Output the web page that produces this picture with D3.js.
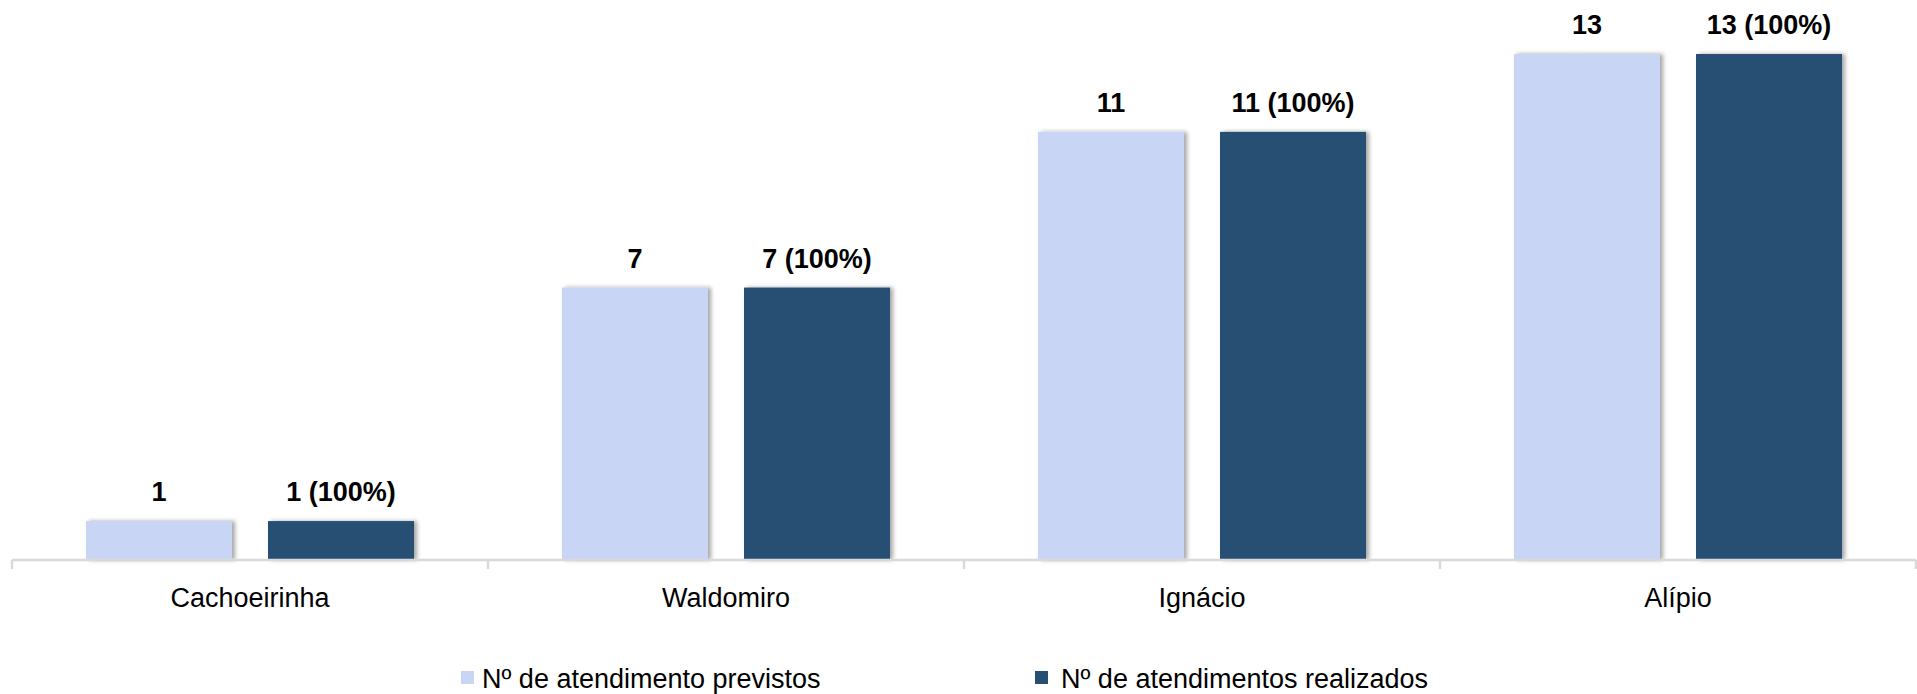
<!DOCTYPE html>
<html>
<head>
<meta charset="utf-8">
<script src="https://cdn.jsdelivr.net/npm/d3@7"></script>
<style>
  html, body { margin: 0; padding: 0; background: #ffffff; }
  svg { display: block; }
  text { font-family: "Liberation Sans", Arial, sans-serif; fill: #000; }
</style>
</head>
<body>
<svg id="chart" width="1917" height="694"></svg>
<script>
const categories = ["Cachoeirinha", "Waldomiro", "Ignácio", "Alípio"];
const seriesNames = ["Nº de atendimento previstos", "Nº de atendimentos realizados"];
const previstos = [1, 7, 11, 13];
const realizados = [1, 7, 11, 13];
const percentLabels = ["100%", "100%", "100%", "100%"];
const colors = ["#C9D5F5", "#264F73"];

const svg = d3.select("#chart");
const W = 1917, H = 694;
const axisLeft = 12, axisRight = 1916, baseY = 560, topY = 15.1;

const defs = svg.append("defs");
const f = defs.append("filter").attr("id", "shadow")
  .attr("x", "-10%").attr("y", "-10%").attr("width", "130%").attr("height", "120%");
f.append("feDropShadow").attr("dx", 3).attr("dy", 0).attr("stdDeviation", 2)
  .attr("flood-color", "#000").attr("flood-opacity", 0.35);

const x0 = d3.scaleBand().domain(categories).range([axisLeft, axisRight]).padding(0);
const bw = x0.bandwidth();
const x1 = d3.scaleBand().domain([0, 1]).range([74, bw - 74]).paddingInner(36 / 182).paddingOuter(0);
const y = d3.scaleLinear().domain([0, 14]).range([baseY, topY]);

const data = categories.map((c, i) => ({
  cat: c,
  vals: [
    { s: 0, v: previstos[i], label: String(previstos[i]) },
    { s: 1, v: realizados[i], label: realizados[i] + " (" + percentLabels[i] + ")" }
  ]
}));

const g = svg.append("g");
const groups = g.selectAll("g.grp").data(data).join("g")
  .attr("class", "grp")
  .attr("transform", d => `translate(${x0(d.cat)},0)`);

groups.selectAll("rect").data(d => d.vals).join("rect")
  .attr("x", d => x1(d.s))
  .attr("width", x1.bandwidth())
  .attr("y", d => y(d.v))
  .attr("height", d => y(0) - y(d.v))
  .attr("fill", d => colors[d.s])
  .attr("filter", "url(#shadow)");

groups.selectAll("text.val").data(d => d.vals).join("text")
  .attr("class", "val")
  .attr("x", d => x1(d.s) + x1.bandwidth() / 2)
  .attr("y", d => y(d.v) - 20)
  .attr("text-anchor", "middle")
  .style("font-size", "27px")
  .style("font-weight", "bold")
  .text(d => d.label);

// x axis
const axis = d3.axisBottom(x0).tickSize(0).tickPadding(28);
const ax = svg.append("g").attr("transform", `translate(0,${baseY})`).call(axis);
ax.select(".domain").attr("stroke", "#D9D9D9").attr("stroke-width", 2.5)
  .attr("d", `M${axisLeft},0H${axisRight}`);
ax.selectAll(".tick text").style("font-size", "27px")
  .style("font-family", "'Liberation Sans', Arial, sans-serif").attr("fill", "#000")
  .attr("dy", "0.71em");
// boundary ticks
const bounds = categories.map(c => x0(c)).concat([axisRight]);
ax.selectAll("line.bound").data(bounds).join("line")
  .attr("class", "bound")
  .attr("x1", d => d).attr("x2", d => d)
  .attr("y1", 0).attr("y2", 9)
  .attr("stroke", "#D9D9D9").attr("stroke-width", 2.5);

// legend
const legendPos = [{ mx: 461, tx: 482 }, { mx: 1035, tx: 1061 }];
const lg = svg.append("g");
seriesNames.forEach((n, i) => {
  lg.append("rect").attr("x", legendPos[i].mx).attr("y", 671)
    .attr("width", 13).attr("height", 13).attr("fill", colors[i]);
  lg.append("text").attr("x", legendPos[i].tx).attr("y", 688)
    .style("font-size", "27px").text(n);
});
</script>
</body>
</html>
